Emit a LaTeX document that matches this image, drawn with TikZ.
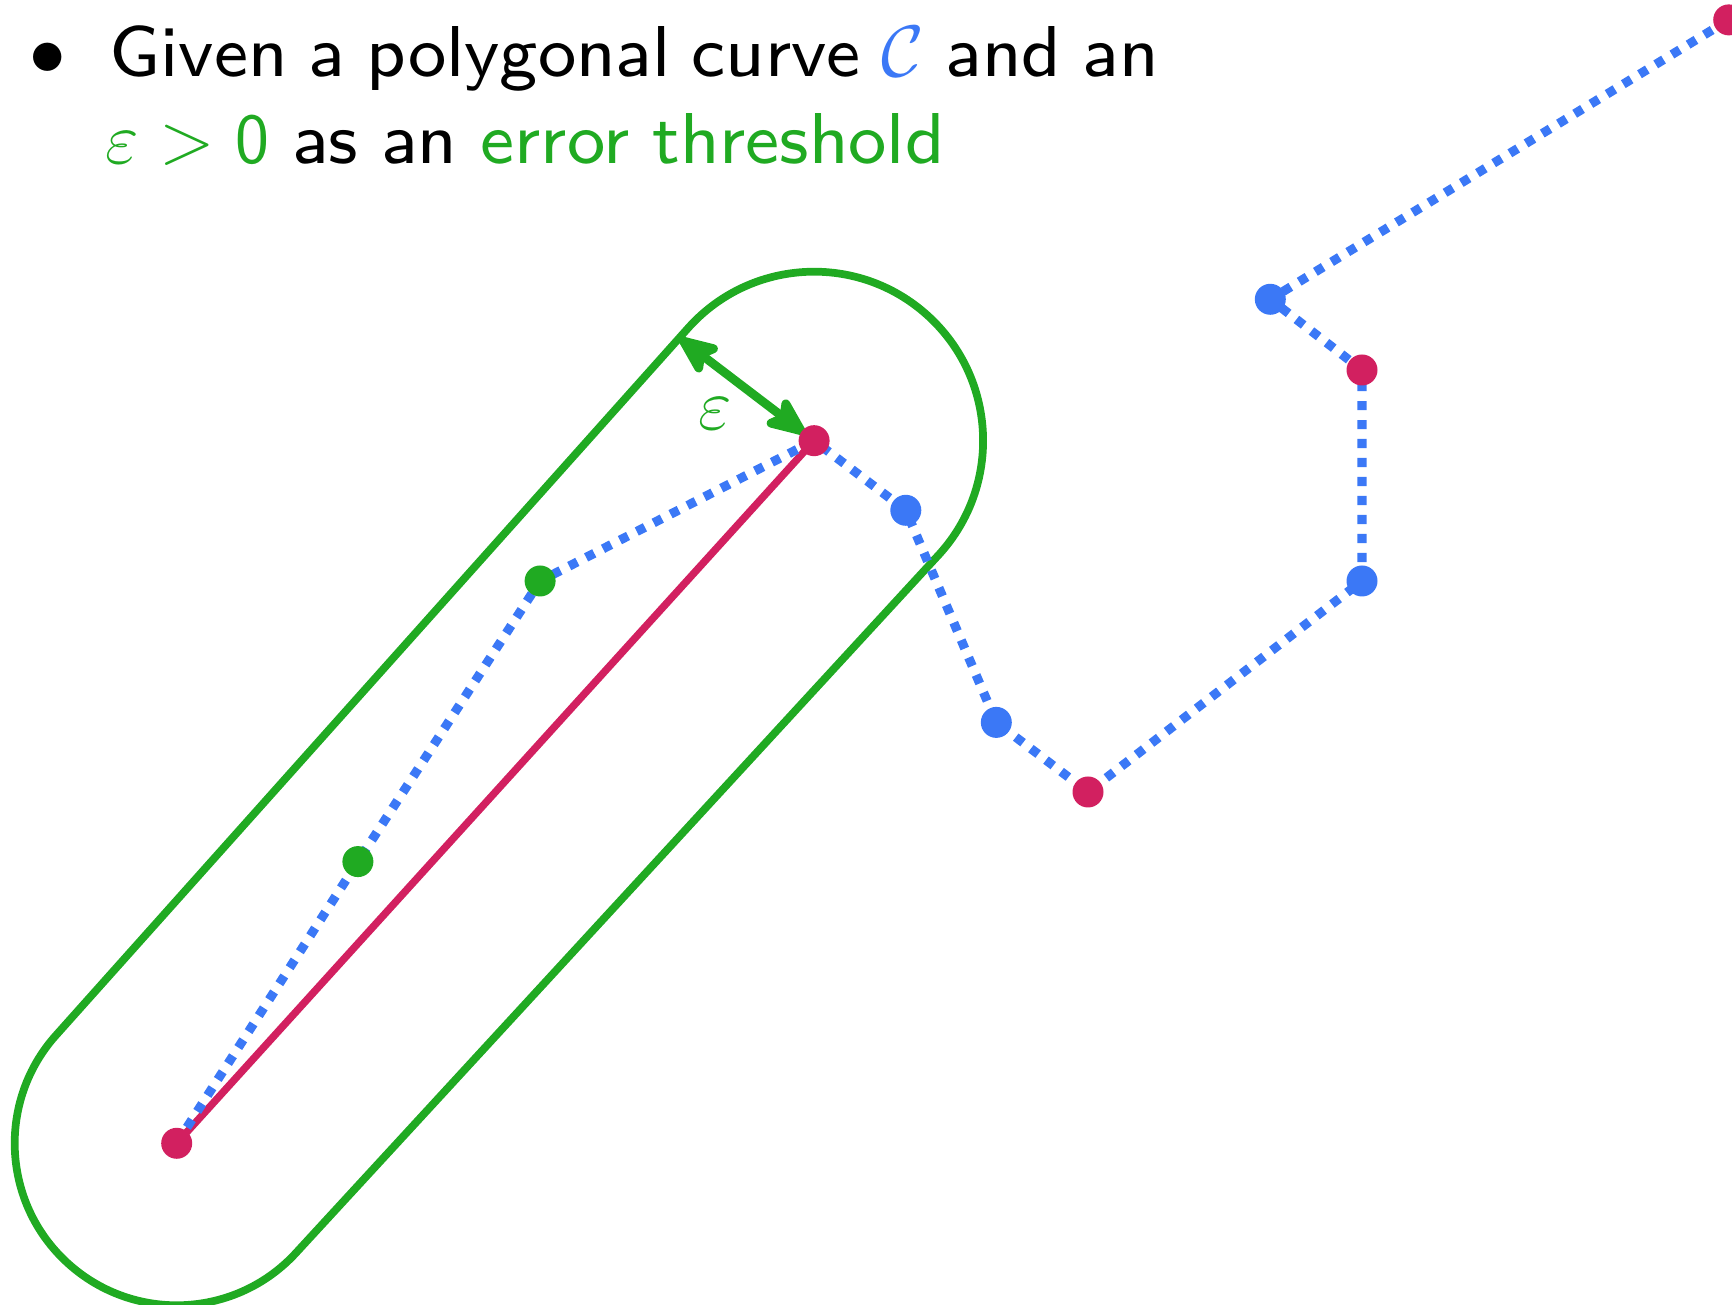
\documentclass[tikz,border=0pt]{standalone}
\usepackage{fontspec}
\newfontfamily\slidefont{lmsans8-regular.otf}
\usetikzlibrary{arrows.meta,calc}
\definecolor{cred}{RGB}{210,32,96}
\definecolor{cblue}{RGB}{59,120,246}
\definecolor{cgreen}{RGB}{32,170,34}
\tikzset{
  stadium/.style={draw=cgreen, line width=2.2pt, line join=round},
  redseg/.style={draw=cred, line width=2.1pt},
  curve/.style={draw=cblue, line width=2.6pt, dash pattern=on 2.6pt off 2.8pt},
  epshead/.tip={Stealth[length=4.9mm,width=4.1mm,inset=1.1mm,round]},
  epsarrow/.style={draw=cgreen, line width=2.5pt, {epshead}-{epshead}},
  dotbase/.style={circle, inner sep=0pt, minimum size=3.1mm},
  reddot/.style={dotbase, fill=cred},
  bluedot/.style={dotbase, fill=cblue},
  greendot/.style={dotbase, fill=cgreen},
  txt/.style={font=\fontsize{20.5}{25}\selectfont\slidefont, inner sep=0pt},
}
\begin{document}
\begin{tikzpicture}
\clip (0,0) rectangle (17.32,13.05);
% points of the curve
\coordinate (p0) at (1.767,1.617);
\coordinate (g1) at (3.579,4.434);
\coordinate (g2) at (5.401,7.240);
\coordinate (p1) at (8.141,8.643);
\coordinate (b1) at (9.058,7.947);
\coordinate (b2) at (9.963,5.826);
\coordinate (p3) at (10.880,5.130);
\coordinate (b3) at (13.620,7.240);
\coordinate (p2) at (13.620,9.350);
\coordinate (b4) at (12.703,10.057);
\coordinate (p4) at (17.287,12.851);
\coordinate (epstip) at (6.80,9.665);
% stadium
\draw[stadium] ($(p0)+(137.78:1.62)$) -- ($(p1)+(137.78:1.69)$)
  arc[start angle=137.78, end angle=-42.22, radius=1.69cm]
  -- ($(p0)+(-42.22:1.62)$)
  arc[start angle=-42.22, end angle=-222.22, radius=1.62cm] -- cycle;
% simplified segment
\draw[redseg] (p0) -- (p1);
% polygonal curve
\draw[curve] (p0) -- (g1) -- (g2) -- (p1) -- (b1) -- (b2) -- (p3) -- (b3) -- (p2) -- (b4) -- (p4);
% epsilon arrow
\draw[epsarrow, shorten >=1.2mm] (epstip) -- (p1);
% dots
\node[reddot] (dp0) at (p0) {};
\node[greendot] (dg1) at (g1) {};
\node[greendot] (dg2) at (g2) {};
\node[reddot] (dp1) at (p1) {};
\node[bluedot] (db1) at (b1) {};
\node[bluedot] (db2) at (b2) {};
\node[reddot] (dp3) at (p3) {};
\node[bluedot] (db3) at (b3) {};
\node[reddot] (dp2) at (p2) {};
\node[bluedot] (db4) at (b4) {};
\node[reddot] (dp4) at (p4) {};
\node[txt, text=cgreen] (epslabel) at (7.15,8.915) {$\varepsilon$};
% text
\node[txt] (bul) at (0.48,12.46) {$\bullet$};
\node[txt, anchor=base west] (line1) at (1.09,12.283)
  {\makebox[10.49cm][s]{Given a polygonal curve \textcolor{cblue}{$\mathcal{C}$} and an}};
\node[txt, anchor=base west] (line2) at (1.05,11.417)
  {\makebox[8.39cm][s]{\textcolor{cgreen}{$\varepsilon > \mathsf{0}$} as an \textcolor{cgreen}{error threshold}}};
\end{tikzpicture}
\end{document}
